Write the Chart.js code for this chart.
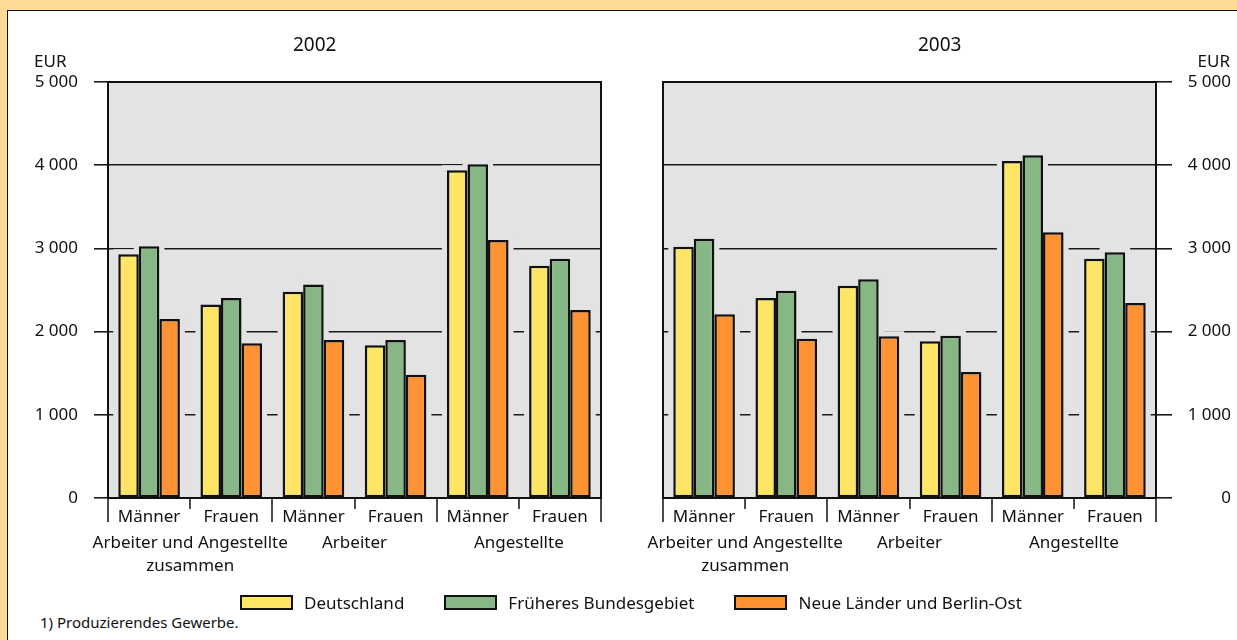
<!DOCTYPE html>
<html lang="de">
<head>
<meta charset="utf-8">
<title>Bruttomonatsverdienste 2002 und 2003</title>
<script src="https://cdn.jsdelivr.net/npm/chart.js@4.4.1/dist/chart.umd.min.js"></script>
<style>
    html, body { margin: 0; padding: 0; }
    body { width: 1237px; height: 640px; position: relative; overflow: hidden; background: #FFDB96; font-family: 'Noto Sans', sans-serif; color: #111; }
    #marco { position: absolute; left: 7px; top: 10px; width: 1250px; height: 650px; background: #fff; border-left: 1px solid #111; border-top: 1px solid #111; }
    .panel { position: absolute; top: 0; height: 600px; }
    .texto { position: absolute; white-space: nowrap; line-height: 1; }
    #leyenda { position: absolute; left: 240px; top: 591px; display: flex; align-items: center; font-size: 17px; }
    #leyenda .item { display: flex; align-items: center; margin-right: 40px; }
    #leyenda .caja { width: 49px; height: 11px; border: 2.5px solid #111; margin-right: 11px; }
</style>
</head>
<body>
<div id="marco"></div>
<div class="panel" style="left:0; width:615px;"><canvas id="grafica-2002"></canvas></div>
<div class="panel" style="left:620px; width:617px;"><canvas id="grafica-2003"></canvas></div>

<div class="texto" style="left:293px; top:35px; font-size:19px;">2002</div>
<div class="texto" style="left:918px; top:35px; font-size:19px;">2003</div>
<div class="texto" style="left:34px; top:52px; font-size:17px;">EUR</div>
<div class="texto" style="right:7px; top:52px; font-size:17px;">EUR</div>
<div id="leyenda"></div>
<div class="texto" style="left:40px; top:615px; font-size:15px;">1) Produzierendes Gewerbe.</div>

<script>
// Datos (EUR)
const kategorien = ['Männer', 'Frauen', 'Männer', 'Frauen', 'Männer', 'Frauen'];
const gruppen = [['Arbeiter und Angestellte', 'zusammen'], 'Arbeiter', 'Angestellte'];
const reihen = ['Deutschland', 'Früheres Bundesgebiet', 'Neue Länder und Berlin-Ost'];
const farben = ['#FFE566', '#86B784', '#FF9233'];
const yTicks = [0, 1000, 2000, 3000, 4000, 5000];

const deutschland2002 = [2930, 2325, 2480, 1835, 3940, 2790];
const frueheresBG2002 = [3025, 2405, 2565, 1900, 4010, 2875];
const neueLaender2002 = [2150, 1860, 1900, 1480, 3100, 2260];

const deutschland2003 = [3020, 2405, 2550, 1885, 4050, 2875];
const frueheresBG2003 = [3115, 2490, 2630, 1950, 4120, 2955];
const neueLaender2003 = [2210, 1915, 1945, 1515, 3195, 2345];

const fuente = 'Noto Sans';
const grisFondo = '#E3E3E3';
const colorTexto = '#111';

// Formato con espacio como separador de miles: 5 000
function formatoMiles(v) {
    return String(v).replace(/\B(?=(\d{3})+(?!\d))/g, ' ');
}

// Plugin: fondo gris, halo alrededor de las barras, marco y marcas del eje x
const pluginPanel = {
    id: 'panel',
    beforeDraw(chart) {
        const a = chart.chartArea;
        const ctx = chart.ctx;
        ctx.save();
        ctx.fillStyle = grisFondo;
        ctx.fillRect(a.left, a.top, a.right - a.left, a.bottom - a.top);
        ctx.restore();
    },
    beforeDatasetsDraw(chart) {
        const ctx = chart.ctx;
        ctx.save();
        ctx.fillStyle = grisFondo;
        chart.data.datasets.forEach((ds, i) => {
            chart.getDatasetMeta(i).data.forEach(bar => {
                const p = bar.getProps(['x', 'y', 'base', 'width'], true);
                ctx.fillRect(p.x - p.width / 2 - 5, p.y - 5, p.width + 10, p.base - p.y + 3);
            });
        });
        ctx.restore();
    },
    afterDatasetsDraw(chart) {
        const a = chart.chartArea;
        const ctx = chart.ctx;
        const x = chart.scales.x;
        ctx.save();
        ctx.strokeStyle = '#111';
        ctx.lineWidth = 2;
        ctx.strokeRect(a.left, a.top, a.right - a.left, a.bottom - a.top);
        ctx.lineWidth = 1.5;
        for (let i = 0; i <= kategorien.length; i++) {
            const px = Math.round(x.getPixelForValue(i - 0.5));
            const largo = (i % 2 === 0) ? 24 : 11;
            ctx.beginPath();
            ctx.moveTo(px, a.bottom);
            ctx.lineTo(px, a.bottom + largo);
            ctx.stroke();
        }
        ctx.restore();
    }
};

// Función para crear una gráfica de barras para un año
function crearGrafica(idCanvas, serieA, serieB, serieC, lado) {
    const ctx = document.getElementById(idCanvas).getContext('2d');
    const izquierda = lado === 'left';
    return new Chart(ctx, {
        type: 'bar',
        data: {
            labels: kategorien,
            datasets: [serieA, serieB, serieC].map((serie, i) => ({
                label: reihen[i],
                data: serie,
                backgroundColor: farben[i],
                borderColor: '#111',
                borderWidth: 2.5,
                borderSkipped: false,
                categoryPercentage: 0.75,
                barPercentage: 1.0
            }))
        },
        options: {
            responsive: true,
            maintainAspectRatio: false,
            animation: false,
            layout: {
                padding: izquierda ? { top: 82, left: 0, right: 14, bottom: 0 } : { top: 82, left: 43, right: 6, bottom: 0 }
            },
            plugins: {
                legend: { display: false },
                title: { display: false },
                tooltip: { enabled: false }
            },
            scales: {
                y: {
                    position: lado,
                    min: 0,
                    max: 5000,
                    afterBuildTicks: s => { s.ticks = yTicks.map(v => ({ value: v })); },
                    afterFit: s => { s.width = izquierda ? 108 : 75; },
                    grid: { color: '#1a1a1a', lineWidth: 1.6, tickLength: izquierda ? 14 : 16 },
                    border: { display: true, color: '#111', width: 2 },
                    ticks: {
                        padding: izquierda ? 16 : 15,
                        crossAlign: izquierda ? 'near' : 'far',
                        color: colorTexto,
                        font: { family: fuente, size: 17 },
                        callback: v => formatoMiles(v)
                    }
                },
                x: {
                    position: 'bottom',
                    afterFit: s => { s.height = 30; },
                    grid: { display: false, drawTicks: false },
                    border: { display: true, color: '#111', width: 2 },
                    ticks: {
                        padding: 8.5,
                        autoSkip: false,
                        maxRotation: 0,
                        color: colorTexto,
                        font: { family: fuente, size: 17, lineHeight: 1.2 }
                    }
                },
                x2: {
                    type: 'category',
                    position: 'bottom',
                    labels: gruppen,
                    offset: true,
                    afterFit: s => { s.height = 72; },
                    grid: { display: false, drawTicks: false },
                    border: { display: false },
                    ticks: {
                        padding: 4,
                        autoSkip: false,
                        maxRotation: 0,
                        color: colorTexto,
                        font: { family: fuente, size: 17, lineHeight: 1.32 }
                    }
                }
            }
        },
        plugins: [pluginPanel]
    });
}

// Leyenda común debajo de las dos gráficas
function crearLeyenda() {
    const cont = document.getElementById('leyenda');
    reihen.forEach((nombre, i) => {
        const item = document.createElement('div');
        item.className = 'item';
        item.innerHTML = `<span class="caja" style="background:${farben[i]}"></span><span>${nombre}</span>`;
        cont.appendChild(item);
    });
}

crearGrafica('grafica-2002', deutschland2002, frueheresBG2002, neueLaender2002, 'left');
crearGrafica('grafica-2003', deutschland2003, frueheresBG2003, neueLaender2003, 'right');
crearLeyenda();
</script>
</body>
</html>
